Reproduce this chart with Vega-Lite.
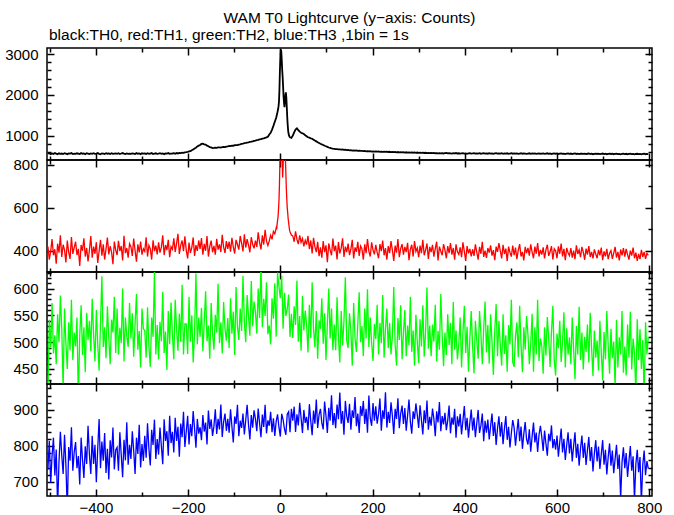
{
"$schema":"https://vega.github.io/schema/vega-lite/v6.json",
"padding":{"left":3,"top":11,"right":5,"bottom":5},
"background":"white",
"title":{"text":"WAM T0 Lightcurve (y−axis: Counts)","anchor":"middle","frame":"group","font":"Liberation Sans","fontSize":15.5,"fontWeight":"normal","color":"black","offset":0},
"spacing":0,
"bounds":"flush",
"config":{"view":{"stroke":"black","strokeWidth":1.5},"axis":{"domain":false,"grid":false,"labelFont":"Liberation Sans","labelFontSize":15,"labelColor":"black","tickColor":"black","tickWidth":1.5,"labelOverlap":false,"labelFlush":false}},
"data":{"values":[
{"t":-504,"a":558,"b":418,"c":402,"d":734},{"t":-501,"a":571,"b":357,"c":542,"d":814},{"t":-498,"a":549,"b":397,"c":491,"d":698},{"t":-495,"a":566,"b":454,"c":573,"d":773},{"t":-492,"a":553,"b":378,"c":479,"d":823},{"t":-489,"a":575,"b":406,"c":513,"d":718},{"t":-486,"a":560,"b":339,"c":459,"d":790},{"t":-483,"a":547,"b":432,"c":552,"d":629},{"t":-480,"a":568,"b":390,"c":500,"d":757},{"t":-477,"a":556,"b":471,"c":587,"d":839},
{"t":-474,"a":563,"b":370,"c":525,"d":774},{"t":-471,"a":552,"b":427,"c":413,"d":722},{"t":-468,"a":570,"b":403,"c":563,"d":831},{"t":-465,"a":559,"b":345,"c":498,"d":747},{"t":-462,"a":548,"b":447,"c":450,"d":621},{"t":-459,"a":567,"b":393,"c":537,"d":797},{"t":-456,"a":561,"b":361,"c":485,"d":759},{"t":-453,"a":574,"b":463,"c":579,"d":852},{"t":-450,"a":551,"b":384,"c":467,"d":731},{"t":-447,"a":562,"b":415,"c":518,"d":783},
{"t":-444,"a":556,"b":441,"c":492,"d":811},{"t":-441,"a":569,"b":379,"c":546,"d":738},{"t":-438,"a":562,"b":408,"c":393,"d":772},{"t":-435,"a":550,"b":328,"c":512,"d":693},{"t":-432,"a":573,"b":426,"c":569,"d":823},{"t":-429,"a":558,"b":399,"c":476,"d":762},{"t":-426,"a":565,"b":457,"c":528,"d":711},{"t":-423,"a":547,"b":372,"c":444,"d":799},{"t":-420,"a":570,"b":412,"c":555,"d":750},{"t":-417,"a":560,"b":349,"c":504,"d":856},
{"t":-414,"a":549,"b":402,"c":540,"d":776},{"t":-411,"a":566,"b":468,"c":483,"d":722},{"t":-408,"a":558,"b":367,"c":581,"d":828},{"t":-405,"a":571,"b":418,"c":516,"d":750},{"t":-402,"a":554,"b":385,"c":464,"d":803},{"t":-399,"a":563,"b":439,"c":560,"d":699},{"t":-396,"a":575,"b":342,"c":497,"d":792},{"t":-393,"a":557,"b":397,"c":447,"d":875},{"t":-390,"a":548,"b":450,"c":534,"d":738},{"t":-387,"a":568,"b":376,"c":623,"d":812},
{"t":-384,"a":561,"b":429,"c":491,"d":759},{"t":-381,"a":553,"b":358,"c":528,"d":836},{"t":-378,"a":570,"b":408,"c":470,"d":725},{"t":-375,"a":559,"b":460,"c":567,"d":792},{"t":-372,"a":566,"b":382,"c":509,"d":707},{"t":-369,"a":550,"b":420,"c":459,"d":816},{"t":-366,"a":572,"b":393,"c":542,"d":768},{"t":-363,"a":556,"b":336,"c":518,"d":851},{"t":-360,"a":563,"b":442,"c":585,"d":735},{"t":-357,"a":569,"b":402,"c":480,"d":789},
{"t":-354,"a":558,"b":379,"c":563,"d":796},{"t":-351,"a":571,"b":445,"c":477,"d":731},{"t":-348,"a":552,"b":397,"c":527,"d":838},{"t":-345,"a":564,"b":421,"c":498,"d":775},{"t":-342,"a":575,"b":354,"c":600,"d":713},{"t":-339,"a":560,"b":469,"c":464,"d":817},{"t":-336,"a":549,"b":388,"c":546,"d":760},{"t":-333,"a":567,"b":412,"c":512,"d":866},{"t":-330,"a":557,"b":367,"c":491,"d":748},{"t":-327,"a":562,"b":432,"c":573,"d":803},
{"t":-324,"a":555,"b":418,"c":507,"d":764},{"t":-321,"a":568,"b":375,"c":554,"d":841},{"t":-318,"a":561,"b":456,"c":473,"d":787},{"t":-315,"a":550,"b":400,"c":534,"d":722},{"t":-312,"a":573,"b":348,"c":590,"d":823},{"t":-309,"a":559,"b":429,"c":486,"d":778},{"t":-306,"a":565,"b":391,"c":521,"d":859},{"t":-303,"a":548,"b":442,"c":453,"d":740},{"t":-300,"a":570,"b":381,"c":563,"d":805},{"t":-297,"a":562,"b":408,"c":525,"d":758},
{"t":-294,"a":566,"b":396,"c":522,"d":828},{"t":-291,"a":553,"b":462,"c":471,"d":767},{"t":-288,"a":571,"b":372,"c":565,"d":863},{"t":-285,"a":558,"b":424,"c":493,"d":792},{"t":-282,"a":562,"b":408,"c":454,"d":746},{"t":-279,"a":575,"b":358,"c":546,"d":845},{"t":-276,"a":551,"b":448,"c":510,"d":803},{"t":-273,"a":560,"b":397,"c":631,"d":873},{"t":-270,"a":569,"b":423,"c":477,"d":764},{"t":-267,"a":557,"b":382,"c":532,"d":819},
{"t":-264,"a":560,"b":438,"c":468,"d":776},{"t":-261,"a":572,"b":390,"c":538,"d":851},{"t":-258,"a":556,"b":415,"c":502,"d":800},{"t":-255,"a":565,"b":471,"c":594,"d":749},{"t":-252,"a":549,"b":379,"c":480,"d":874},{"t":-249,"a":568,"b":426,"c":520,"d":814},{"t":-246,"a":561,"b":402,"c":448,"d":841},{"t":-243,"a":574,"b":450,"c":558,"d":773},{"t":-240,"a":555,"b":369,"c":496,"d":884},{"t":-237,"a":563,"b":418,"c":574,"d":808},
{"t":-234,"a":564,"b":406,"c":514,"d":839},{"t":-231,"a":571,"b":457,"c":468,"d":782},{"t":-228,"a":559,"b":393,"c":579,"d":878},{"t":-225,"a":576,"b":433,"c":526,"d":814},{"t":-222,"a":566,"b":478,"c":484,"d":853},{"t":-219,"a":580,"b":384,"c":553,"d":770},{"t":-216,"a":573,"b":424,"c":501,"d":862},{"t":-213,"a":585,"b":447,"c":607,"d":824},{"t":-210,"a":578,"b":397,"c":477,"d":895},{"t":-207,"a":590,"b":466,"c":534,"d":797},
{"t":-204,"a":596,"b":402,"c":534,"d":840},{"t":-201,"a":603,"b":363,"c":478,"d":884},{"t":-198,"a":614,"b":437,"c":585,"d":804},{"t":-195,"a":622,"b":389,"c":501,"d":861},{"t":-192,"a":645,"b":414,"c":550,"d":827},{"t":-189,"a":661,"b":461,"c":462,"d":897},{"t":-186,"a":688,"b":375,"c":517,"d":848},{"t":-183,"a":707,"b":425,"c":628,"d":795},{"t":-180,"a":738,"b":398,"c":496,"d":875},{"t":-177,"a":756,"b":447,"c":546,"d":834},
{"t":-174,"a":772,"b":407,"c":510,"d":852},{"t":-171,"a":798,"b":458,"c":564,"d":816},{"t":-168,"a":806,"b":381,"c":483,"d":886},{"t":-165,"a":790,"b":431,"c":538,"d":840},{"t":-162,"a":784,"b":399,"c":595,"d":865},{"t":-159,"a":757,"b":468,"c":502,"d":804},{"t":-156,"a":743,"b":372,"c":531,"d":898},{"t":-153,"a":721,"b":419,"c":469,"d":847},{"t":-150,"a":712,"b":446,"c":573,"d":874},{"t":-147,"a":697,"b":392,"c":517,"d":828},
{"t":-144,"a":700,"b":422,"c":486,"d":855},{"t":-141,"a":708,"b":381,"c":551,"d":902},{"t":-138,"a":703,"b":455,"c":518,"d":833},{"t":-135,"a":712,"b":404,"c":609,"d":875},{"t":-132,"a":715,"b":429,"c":498,"d":846},{"t":-129,"a":710,"b":393,"c":537,"d":915},{"t":-126,"a":722,"b":473,"c":479,"d":825},{"t":-123,"a":726,"b":416,"c":575,"d":867},{"t":-120,"a":720,"b":389,"c":525,"d":890},{"t":-117,"a":733,"b":444,"c":503,"d":842},
{"t":-114,"a":738,"b":408,"c":545,"d":875},{"t":-111,"a":748,"b":441,"c":489,"d":837},{"t":-108,"a":745,"b":395,"c":582,"d":902},{"t":-105,"a":757,"b":459,"c":516,"d":854},{"t":-102,"a":754,"b":417,"c":557,"d":810},{"t":-99,"a":766,"b":386,"c":476,"d":882},{"t":-96,"a":770,"b":450,"c":603,"d":861},{"t":-93,"a":768,"b":428,"c":530,"d":914},{"t":-90,"a":781,"b":404,"c":504,"d":827},{"t":-87,"a":790,"b":468,"c":563,"d":870},
{"t":-84,"a":801,"b":435,"c":521,"d":850},{"t":-81,"a":808,"b":396,"c":624,"d":890},{"t":-78,"a":816,"b":476,"c":537,"d":832},{"t":-75,"a":822,"b":414,"c":500,"d":872},{"t":-72,"a":830,"b":453,"c":588,"d":914},{"t":-69,"a":838,"b":425,"c":549,"d":859},{"t":-66,"a":847,"b":392,"c":512,"d":818},{"t":-63,"a":853,"b":462,"c":614,"d":886},{"t":-60,"a":862,"b":429,"c":530,"d":851},{"t":-57,"a":875,"b":410,"c":576,"d":899},
{"t":-54,"a":882,"b":446,"c":557,"d":875},{"t":-51,"a":893,"b":417,"c":516,"d":841},{"t":-48,"a":900,"b":485,"c":600,"d":904},{"t":-45,"a":911,"b":437,"c":545,"d":863},{"t":-42,"a":918,"b":405,"c":644,"d":824},{"t":-39,"a":930,"b":471,"c":528,"d":887},{"t":-36,"a":937,"b":428,"c":581,"d":853},{"t":-33,"a":949,"b":497,"c":549,"d":914},{"t":-30,"a":958,"b":444,"c":612,"d":835},{"t":-27,"a":975,"b":423,"c":515,"d":871},
{"t":-24,"a":1030,"b":445,"c":531,"d":856},{"t":-21,"a":1070,"b":471,"c":496,"d":895},{"t":-18,"a":1150,"b":452,"c":582,"d":838},{"t":-15,"a":1240,"b":489,"c":544,"d":877},{"t":-12,"a":1340,"b":478,"c":610,"d":828},{"t":-9,"a":1440,"b":505,"c":510,"d":868},{"t":-8,"a":1490,"b":498,"c":583,"d":893},{"t":-7,"a":1530,"b":522,"c":547,"d":851},{"t":-6,"a":1590,"b":540,"c":630,"d":888},{"t":-5,"a":1640,"b":556,"c":563,"d":842},
{"t":-4,"a":1710,"b":590,"c":527,"d":870},{"t":-3,"a":1820,"b":630,"c":604,"d":852},{"t":-2,"a":2100,"b":700,"c":555,"d":884},{"t":-1,"a":2550,"b":800,"c":619,"d":861},{"t":0,"a":2920,"b":920,"c":582,"d":826},{"t":1,"a":3110,"b":1000,"c":640,"d":872},{"t":2,"a":3070,"b":960,"c":568,"d":849},{"t":3,"a":2870,"b":880,"c":624,"d":889},{"t":4,"a":2620,"b":830,"c":551,"d":856},{"t":5,"a":2440,"b":740,"c":589,"d":833},
{"t":6,"a":2210,"b":790,"c":525,"d":873},{"t":7,"a":1960,"b":880,"c":614,"d":845},{"t":8,"a":1810,"b":950,"c":566,"d":877},{"t":9,"a":1700,"b":960,"c":592,"d":847},{"t":10,"a":1830,"b":900,"c":532,"d":888},{"t":11,"a":1990,"b":830,"c":599,"d":860},{"t":12,"a":2060,"b":760,"c":549,"d":831},{"t":13,"a":1940,"b":690,"c":576,"d":873},{"t":14,"a":1700,"b":640,"c":528,"d":855},{"t":15,"a":1450,"b":600,"c":562,"d":888},
{"t":16,"a":1260,"b":575,"c":517,"d":848},{"t":17,"a":1120,"b":548,"c":550,"d":866},{"t":18,"a":1040,"b":530,"c":589,"d":895},{"t":19,"a":1000,"b":512,"c":536,"d":857},{"t":20,"a":975,"b":495,"c":569,"d":871},{"t":21,"a":962,"b":488,"c":510,"d":838},{"t":24,"a":948,"b":472,"c":553,"d":903},
{"t":27,"a":1000,"b":468,"c":508,"d":870},{"t":30,"a":1080,"b":441,"c":567,"d":909},{"t":33,"a":1150,"b":489,"c":532,"d":839},{"t":36,"a":1180,"b":452,"c":615,"d":888},{"t":39,"a":1135,"b":430,"c":501,"d":857},{"t":42,"a":1100,"b":471,"c":549,"d":920},{"t":45,"a":1072,"b":438,"c":484,"d":878},{"t":48,"a":1058,"b":456,"c":586,"d":836},{"t":51,"a":1040,"b":419,"c":522,"d":900},{"t":54,"a":1012,"b":447,"c":559,"d":864},
{"t":57,"a":988,"b":428,"c":532,"d":881},{"t":60,"a":962,"b":468,"c":481,"d":844},{"t":63,"a":951,"b":407,"c":570,"d":916},{"t":66,"a":936,"b":447,"c":508,"d":869},{"t":69,"a":926,"b":386,"c":612,"d":830},{"t":72,"a":903,"b":459,"c":525,"d":898},{"t":75,"a":880,"b":417,"c":490,"d":862},{"t":78,"a":861,"b":393,"c":558,"d":929},{"t":81,"a":841,"b":440,"c":469,"d":850},{"t":84,"a":822,"b":374,"c":541,"d":887},
{"t":87,"a":803,"b":415,"c":525,"d":903},{"t":90,"a":786,"b":367,"c":582,"d":864},{"t":93,"a":772,"b":444,"c":497,"d":846},{"t":96,"a":754,"b":393,"c":554,"d":923},{"t":99,"a":741,"b":424,"c":467,"d":884},{"t":102,"a":727,"b":346,"c":534,"d":836},{"t":105,"a":711,"b":433,"c":600,"d":906},{"t":108,"a":701,"b":402,"c":507,"d":870},{"t":111,"a":689,"b":378,"c":563,"d":941},{"t":114,"a":682,"b":456,"c":485,"d":858},
{"t":117,"a":676,"b":397,"c":533,"d":891},{"t":120,"a":670,"b":423,"c":485,"d":849},{"t":123,"a":673,"b":358,"c":584,"d":915},{"t":126,"a":664,"b":439,"c":510,"d":874},{"t":129,"a":667,"b":387,"c":462,"d":948},{"t":132,"a":659,"b":411,"c":558,"d":862},{"t":135,"a":662,"b":457,"c":494,"d":897},{"t":138,"a":655,"b":370,"c":540,"d":831},{"t":141,"a":658,"b":418,"c":621,"d":925},{"t":144,"a":648,"b":393,"c":503,"d":883},
{"t":147,"a":650,"b":432,"c":489,"d":864},{"t":150,"a":641,"b":379,"c":554,"d":917},{"t":153,"a":646,"b":406,"c":521,"d":845},{"t":156,"a":637,"b":450,"c":456,"d":899},{"t":159,"a":642,"b":363,"c":573,"d":878},{"t":162,"a":633,"b":415,"c":507,"d":936},{"t":165,"a":638,"b":394,"c":482,"d":855},{"t":168,"a":629,"b":441,"c":534,"d":890},{"t":171,"a":634,"b":375,"c":593,"d":836},{"t":174,"a":627,"b":421,"c":500,"d":911},
{"t":177,"a":629,"b":408,"c":530,"d":883},{"t":180,"a":621,"b":358,"c":474,"d":925},{"t":183,"a":626,"b":429,"c":563,"d":861},{"t":186,"a":617,"b":388,"c":507,"d":903},{"t":189,"a":624,"b":454,"c":599,"d":837},{"t":192,"a":615,"b":397,"c":491,"d":940},{"t":195,"a":620,"b":372,"c":546,"d":877},{"t":198,"a":612,"b":438,"c":498,"d":856},{"t":201,"a":618,"b":402,"c":465,"d":919},{"t":204,"a":611,"b":382,"c":534,"d":870},
{"t":207,"a":617,"b":426,"c":506,"d":910},{"t":210,"a":609,"b":391,"c":570,"d":862},{"t":213,"a":614,"b":364,"c":477,"d":889},{"t":216,"a":606,"b":430,"c":536,"d":932},{"t":219,"a":612,"b":397,"c":498,"d":842},{"t":222,"a":604,"b":447,"c":588,"d":899},{"t":225,"a":610,"b":378,"c":471,"d":875},{"t":228,"a":602,"b":411,"c":524,"d":949},{"t":231,"a":608,"b":358,"c":563,"d":851},{"t":234,"a":601,"b":421,"c":489,"d":895},
{"t":237,"a":606,"b":388,"c":536,"d":864},{"t":240,"a":598,"b":444,"c":477,"d":921},{"t":243,"a":604,"b":402,"c":512,"d":884},{"t":246,"a":596,"b":352,"c":603,"d":833},{"t":249,"a":601,"b":423,"c":495,"d":903},{"t":252,"a":594,"b":390,"c":456,"d":875},{"t":255,"a":600,"b":454,"c":545,"d":932},{"t":258,"a":592,"b":369,"c":504,"d":849},{"t":261,"a":598,"b":409,"c":569,"d":890},{"t":264,"a":590,"b":430,"c":468,"d":912},
{"t":267,"a":596,"b":381,"c":518,"d":861},{"t":270,"a":588,"b":417,"c":560,"d":905},{"t":273,"a":594,"b":393,"c":474,"d":842},{"t":276,"a":586,"b":436,"c":531,"d":885},{"t":279,"a":592,"b":355,"c":494,"d":929},{"t":282,"a":585,"b":405,"c":585,"d":867},{"t":285,"a":590,"b":427,"c":482,"d":834},{"t":288,"a":583,"b":372,"c":522,"d":896},{"t":291,"a":589,"b":444,"c":456,"d":875},{"t":294,"a":581,"b":396,"c":551,"d":918},
{"t":297,"a":588,"b":412,"c":501,"d":886},{"t":300,"a":581,"b":369,"c":461,"d":850},{"t":303,"a":586,"b":423,"c":543,"d":913},{"t":306,"a":579,"b":388,"c":492,"d":872},{"t":309,"a":584,"b":450,"c":569,"d":832},{"t":312,"a":577,"b":378,"c":473,"d":899},{"t":315,"a":582,"b":402,"c":519,"d":863},{"t":318,"a":575,"b":433,"c":602,"d":926},{"t":321,"a":580,"b":361,"c":488,"d":845},{"t":324,"a":574,"b":417,"c":531,"d":881},
{"t":327,"a":579,"b":393,"c":474,"d":856},{"t":330,"a":572,"b":427,"c":533,"d":904},{"t":333,"a":577,"b":372,"c":501,"d":875},{"t":336,"a":570,"b":409,"c":570,"d":827},{"t":339,"a":575,"b":441,"c":464,"d":896},{"t":342,"a":568,"b":354,"c":521,"d":865},{"t":345,"a":573,"b":418,"c":486,"d":922},{"t":348,"a":566,"b":397,"c":590,"d":841},{"t":351,"a":571,"b":378,"c":512,"d":883},{"t":354,"a":565,"b":430,"c":455,"d":860},
{"t":357,"a":572,"b":402,"c":518,"d":892},{"t":360,"a":578,"b":364,"c":476,"d":844},{"t":363,"a":566,"b":421,"c":552,"d":871},{"t":366,"a":574,"b":388,"c":495,"d":912},{"t":369,"a":569,"b":435,"c":536,"d":835},{"t":372,"a":563,"b":381,"c":459,"d":879},{"t":375,"a":571,"b":412,"c":575,"d":859},{"t":378,"a":567,"b":357,"c":486,"d":903},{"t":381,"a":575,"b":429,"c":522,"d":823},{"t":384,"a":564,"b":394,"c":468,"d":882},
{"t":387,"a":570,"b":382,"c":496,"d":854},{"t":390,"a":561,"b":415,"c":546,"d":889},{"t":393,"a":567,"b":369,"c":453,"d":832},{"t":396,"a":573,"b":438,"c":517,"d":871},{"t":399,"a":563,"b":396,"c":568,"d":911},{"t":402,"a":569,"b":352,"c":480,"d":844},{"t":405,"a":558,"b":421,"c":529,"d":878},{"t":408,"a":566,"b":387,"c":445,"d":823},{"t":411,"a":572,"b":408,"c":507,"d":865},{"t":414,"a":562,"b":373,"c":558,"d":901},
{"t":417,"a":567,"b":406,"c":492,"d":843},{"t":420,"a":574,"b":375,"c":442,"d":879},{"t":423,"a":560,"b":429,"c":540,"d":824},{"t":426,"a":568,"b":393,"c":504,"d":863},{"t":429,"a":563,"b":358,"c":469,"d":900},{"t":432,"a":571,"b":417,"c":558,"d":836},{"t":435,"a":559,"b":385,"c":516,"d":857},{"t":438,"a":565,"b":441,"c":459,"d":890},{"t":441,"a":573,"b":370,"c":526,"d":813},{"t":444,"a":561,"b":400,"c":576,"d":870},
{"t":447,"a":566,"b":366,"c":481,"d":837},{"t":450,"a":559,"b":412,"c":532,"d":873},{"t":453,"a":570,"b":390,"c":460,"d":818},{"t":456,"a":562,"b":424,"c":552,"d":855},{"t":459,"a":568,"b":376,"c":501,"d":890},{"t":462,"a":557,"b":402,"c":439,"d":828},{"t":465,"a":565,"b":355,"c":520,"d":866},{"t":468,"a":571,"b":418,"c":571,"d":803},{"t":471,"a":560,"b":394,"c":474,"d":849},{"t":474,"a":567,"b":435,"c":540,"d":882},
{"t":477,"a":562,"b":399,"c":495,"d":826},{"t":480,"a":570,"b":363,"c":456,"d":866},{"t":483,"a":558,"b":427,"c":552,"d":805},{"t":486,"a":566,"b":384,"c":478,"d":848},{"t":489,"a":561,"b":409,"c":513,"d":883},{"t":492,"a":569,"b":351,"c":445,"d":817},{"t":495,"a":555,"b":418,"c":532,"d":853},{"t":498,"a":564,"b":391,"c":496,"d":796},{"t":501,"a":571,"b":372,"c":579,"d":836},{"t":504,"a":559,"b":423,"c":463,"d":872},
{"t":507,"a":566,"b":379,"c":454,"d":851},{"t":510,"a":560,"b":414,"c":511,"d":801},{"t":513,"a":568,"b":360,"c":537,"d":840},{"t":516,"a":555,"b":402,"c":472,"d":875},{"t":519,"a":563,"b":430,"c":568,"d":813},{"t":522,"a":570,"b":372,"c":495,"d":854},{"t":525,"a":558,"b":394,"c":444,"d":792},{"t":528,"a":565,"b":354,"c":528,"d":834},{"t":531,"a":561,"b":417,"c":486,"d":866},{"t":534,"a":556,"b":388,"c":549,"d":818},
{"t":537,"a":563,"b":412,"c":514,"d":804},{"t":540,"a":569,"b":376,"c":459,"d":846},{"t":543,"a":557,"b":429,"c":496,"d":784},{"t":546,"a":565,"b":393,"c":553,"d":826},{"t":549,"a":560,"b":364,"c":445,"d":865},{"t":552,"a":567,"b":418,"c":528,"d":810},{"t":555,"a":554,"b":385,"c":477,"d":837},{"t":558,"a":562,"b":435,"c":579,"d":783},{"t":561,"a":568,"b":372,"c":465,"d":831},{"t":564,"a":558,"b":403,"c":507,"d":856},
{"t":567,"a":561,"b":381,"c":493,"d":825},{"t":570,"a":566,"b":415,"c":441,"d":786},{"t":573,"a":555,"b":363,"c":528,"d":843},{"t":576,"a":563,"b":403,"c":475,"d":806},{"t":579,"a":569,"b":427,"c":547,"d":773},{"t":582,"a":557,"b":375,"c":507,"d":834},{"t":585,"a":564,"b":394,"c":454,"d":813},{"t":588,"a":552,"b":421,"c":519,"d":857},{"t":591,"a":560,"b":358,"c":568,"d":794},{"t":594,"a":566,"b":408,"c":466,"d":819},
{"t":597,"a":558,"b":399,"c":438,"d":790},{"t":600,"a":565,"b":364,"c":516,"d":829},{"t":603,"a":553,"b":420,"c":489,"d":770},{"t":606,"a":561,"b":385,"c":540,"d":811},{"t":609,"a":567,"b":432,"c":463,"d":848},{"t":612,"a":555,"b":373,"c":502,"d":782},{"t":615,"a":562,"b":408,"c":556,"d":820},{"t":618,"a":550,"b":355,"c":453,"d":761},{"t":621,"a":559,"b":412,"c":526,"d":802},{"t":624,"a":564,"b":390,"c":477,"d":838},
{"t":627,"a":556,"b":376,"c":509,"d":779},{"t":630,"a":563,"b":411,"c":459,"d":820},{"t":633,"a":551,"b":367,"c":546,"d":757},{"t":636,"a":560,"b":400,"c":488,"d":800},{"t":639,"a":566,"b":360,"c":431,"d":838},{"t":642,"a":553,"b":424,"c":530,"d":767},{"t":645,"a":561,"b":384,"c":477,"d":806},{"t":648,"a":549,"b":403,"c":566,"d":745},{"t":651,"a":558,"b":369,"c":467,"d":793},{"t":654,"a":563,"b":417,"c":518,"d":829},
{"t":657,"a":555,"b":393,"c":449,"d":767},{"t":660,"a":561,"b":357,"c":510,"d":809},{"t":663,"a":550,"b":409,"c":482,"d":747},{"t":666,"a":558,"b":381,"c":533,"d":788},{"t":669,"a":564,"b":421,"c":462,"d":825},{"t":672,"a":552,"b":370,"c":555,"d":758},{"t":675,"a":559,"b":394,"c":489,"d":797},{"t":678,"a":547,"b":363,"c":437,"d":729},{"t":681,"a":556,"b":405,"c":522,"d":779},{"t":684,"a":562,"b":384,"c":471,"d":816},
{"t":687,"a":553,"b":364,"c":503,"d":757},{"t":690,"a":560,"b":403,"c":447,"d":798},{"t":693,"a":548,"b":378,"c":540,"d":736},{"t":696,"a":557,"b":414,"c":482,"d":777},{"t":699,"a":563,"b":355,"c":429,"d":816},{"t":702,"a":550,"b":396,"c":519,"d":748},{"t":705,"a":558,"b":373,"c":468,"d":789},{"t":708,"a":546,"b":408,"c":558,"d":721},{"t":711,"a":555,"b":360,"c":494,"d":769},{"t":714,"a":560,"b":387,"c":441,"d":807},
{"t":717,"a":552,"b":400,"c":525,"d":745},{"t":720,"a":558,"b":361,"c":470,"d":787},{"t":723,"a":547,"b":388,"c":501,"d":724},{"t":726,"a":555,"b":417,"c":416,"d":764},{"t":729,"a":561,"b":367,"c":542,"d":803},{"t":732,"a":549,"b":394,"c":453,"d":736},{"t":735,"a":556,"b":354,"c":509,"d":776},{"t":738,"a":545,"b":405,"c":477,"d":653},{"t":741,"a":553,"b":378,"c":558,"d":755},{"t":744,"a":559,"b":411,"c":443,"d":796},
{"t":747,"a":551,"b":372,"c":492,"d":738},{"t":750,"a":557,"b":408,"c":438,"d":780},{"t":753,"a":546,"b":381,"c":533,"d":714},{"t":756,"a":554,"b":358,"c":471,"d":758},{"t":759,"a":560,"b":400,"c":557,"d":800},{"t":762,"a":548,"b":376,"c":449,"d":731},{"t":765,"a":555,"b":414,"c":507,"d":771},{"t":768,"a":544,"b":364,"c":480,"d":651},{"t":771,"a":552,"b":390,"c":402,"d":750},{"t":774,"a":558,"b":352,"c":543,"d":789},
{"t":777,"a":550,"b":384,"c":467,"d":727},{"t":780,"a":556,"b":360,"c":524,"d":769},{"t":783,"a":545,"b":403,"c":450,"d":643},{"t":786,"a":553,"b":370,"c":504,"d":748},{"t":789,"a":559,"b":394,"c":396,"d":787},{"t":792,"a":547,"b":361,"c":537,"d":719},{"t":795,"a":554,"b":387,"c":477,"d":758},{"t":798,"a":549,"b":378,"c":510,"d":737}
]},
"vconcat":[
{"width":605,"height":112,
 "title":{"text":"black:TH0, red:TH1, green:TH2, blue:TH3 ,1bin = 1s","anchor":"start","frame":"group","font":"Liberation Sans","fontSize":15.5,"fontWeight":"normal","color":"black","offset":4,"dx":2},
 "layer":[
  {"mark":{"type":"line","color":"#000000","strokeWidth":1.8,"clip":true},
   "encoding":{
    "x":{"field":"t","type":"quantitative","scale":{"domain":[-506,806],"nice":false,"zero":false},"axis":{"orient":"bottom","title":null,"labels":false,"values":[-500,-400,-300,-200,-100,0,100,200,300,400,500,600,700,800],"tickSize":{"condition":{"test":"datum.value % 200 === 0","value":-7},"value":-4}}},
    "y":{"field":"a","type":"quantitative","scale":{"domain":[405,3147],"nice":false,"zero":false},"axis":{"orient":"left","title":null,"format":"d","labelPadding":16,"values":[600,800,1000,1200,1400,1600,1800,2000,2200,2400,2600,2800,3000],"labelExpr":"datum.value % 1000 === 0 ? datum.label : ''","tickSize":{"condition":{"test":"datum.value % 1000 === 0","value":-7},"value":-4}}}}},
  {"transform":[{"filter":"datum.t === 0"}],
   "mark":{"type":"point","opacity":0},
   "encoding":{
    "x":{"field":"t","type":"quantitative","axis":{"orient":"top","title":null,"labels":false,"values":[-500,-400,-300,-200,-100,0,100,200,300,400,500,600,700,800],"tickSize":{"condition":{"test":"datum.value % 200 === 0","value":-7},"value":-4}}},
    "y":{"field":"a","type":"quantitative","axis":{"orient":"right","title":null,"labels":false,"values":[600,800,1000,1200,1400,1600,1800,2000,2200,2400,2600,2800,3000],"tickSize":{"condition":{"test":"datum.value % 1000 === 0","value":-7},"value":-4}}}}}
 ],
 "resolve":{"axis":{"x":"independent","y":"independent"}}},
{"width":605,"height":112,
 "layer":[
  {"mark":{"type":"line","color":"#ff0000","strokeWidth":1.3,"clip":true},
   "encoding":{
    "x":{"field":"t","type":"quantitative","scale":{"domain":[-506,806],"nice":false,"zero":false},"axis":{"orient":"bottom","title":null,"labels":false,"values":[-500,-400,-300,-200,-100,0,100,200,300,400,500,600,700,800],"tickSize":{"condition":{"test":"datum.value % 200 === 0","value":-7},"value":-4}}},
    "y":{"field":"b","type":"quantitative","scale":{"domain":[300,822],"nice":false,"zero":false},"axis":{"orient":"left","title":null,"format":"d","labelPadding":16,"values":[300,400,500,600,700,800],"labelExpr":"datum.value % 200 === 0 ? datum.label : ''","tickSize":{"condition":{"test":"datum.value % 200 === 0","value":-7},"value":-4}}}}},
  {"transform":[{"filter":"datum.t === 0"}],
   "mark":{"type":"point","opacity":0},
   "encoding":{
    "x":{"field":"t","type":"quantitative","axis":{"orient":"top","title":null,"labels":false,"values":[-500,-400,-300,-200,-100,0,100,200,300,400,500,600,700,800],"tickSize":{"condition":{"test":"datum.value % 200 === 0","value":-7},"value":-4}}},
    "y":{"field":"b","type":"quantitative","axis":{"orient":"right","title":null,"labels":false,"values":[300,400,500,600,700,800],"tickSize":{"condition":{"test":"datum.value % 200 === 0","value":-7},"value":-4}}}}}
 ],
 "resolve":{"axis":{"x":"independent","y":"independent"}}},
{"width":605,"height":112,
 "layer":[
  {"transform":[{"filter":"datum.t % 3 === 0"}],
   "mark":{"type":"line","color":"#00ff00","strokeWidth":1.3,"clip":true},
   "encoding":{
    "x":{"field":"t","type":"quantitative","scale":{"domain":[-506,806],"nice":false,"zero":false},"axis":{"orient":"bottom","title":null,"labels":false,"values":[-500,-400,-300,-200,-100,0,100,200,300,400,500,600,700,800],"tickSize":{"condition":{"test":"datum.value % 200 === 0","value":-7},"value":-4}}},
    "y":{"field":"c","type":"quantitative","scale":{"domain":[422,631],"nice":false,"zero":false},"axis":{"orient":"left","title":null,"format":"d","labelPadding":16,"values":[430,440,450,460,470,480,490,500,510,520,530,540,550,560,570,580,590,600,610,620,630],"labelExpr":"datum.value % 50 === 0 ? datum.label : ''","tickSize":{"condition":{"test":"datum.value % 50 === 0","value":-7},"value":-4}}}}},
  {"transform":[{"filter":"datum.t === 0"}],
   "mark":{"type":"point","opacity":0},
   "encoding":{
    "x":{"field":"t","type":"quantitative","axis":{"orient":"top","title":null,"labels":false,"values":[-500,-400,-300,-200,-100,0,100,200,300,400,500,600,700,800],"tickSize":{"condition":{"test":"datum.value % 200 === 0","value":-7},"value":-4}}},
    "y":{"field":"c","type":"quantitative","axis":{"orient":"right","title":null,"labels":false,"values":[430,440,450,460,470,480,490,500,510,520,530,540,550,560,570,580,590,600,610,620,630],"tickSize":{"condition":{"test":"datum.value % 50 === 0","value":-7},"value":-4}}}}}
 ],
 "resolve":{"axis":{"x":"independent","y":"independent"}}},
{"width":605,"height":112,
 "layer":[
  {"transform":[{"filter":"datum.t % 3 === 0"}],
   "mark":{"type":"line","color":"#0000ff","strokeWidth":1.3,"clip":true},
   "encoding":{
    "x":{"field":"t","type":"quantitative","scale":{"domain":[-506,806],"nice":false,"zero":false},"axis":{"orient":"bottom","title":null,"labelPadding":11.5,"values":[-500,-400,-300,-200,-100,0,100,200,300,400,500,600,700,800],"labelExpr":"datum.value % 200 === 0 ? datum.label : ''","tickSize":{"condition":{"test":"datum.value % 200 === 0","value":-7},"value":-4}}},
    "y":{"field":"d","type":"quantitative","scale":{"domain":[661,972],"nice":false,"zero":false},"axis":{"orient":"left","title":null,"format":"d","labelPadding":16,"values":[680,700,720,740,760,780,800,820,840,860,880,900,920,940,960],"labelExpr":"datum.value % 100 === 0 ? datum.label : ''","tickSize":{"condition":{"test":"datum.value % 100 === 0","value":-7},"value":-4}}}}},
  {"transform":[{"filter":"datum.t === 0"}],
   "mark":{"type":"point","opacity":0},
   "encoding":{
    "x":{"field":"t","type":"quantitative","axis":{"orient":"top","title":null,"labels":false,"values":[-500,-400,-300,-200,-100,0,100,200,300,400,500,600,700,800],"tickSize":{"condition":{"test":"datum.value % 200 === 0","value":-7},"value":-4}}},
    "y":{"field":"d","type":"quantitative","axis":{"orient":"right","title":null,"labels":false,"values":[680,700,720,740,760,780,800,820,840,860,880,900,920,940,960],"tickSize":{"condition":{"test":"datum.value % 100 === 0","value":-7},"value":-4}}}}}
 ],
 "resolve":{"axis":{"x":"independent","y":"independent"}}}
]
}
